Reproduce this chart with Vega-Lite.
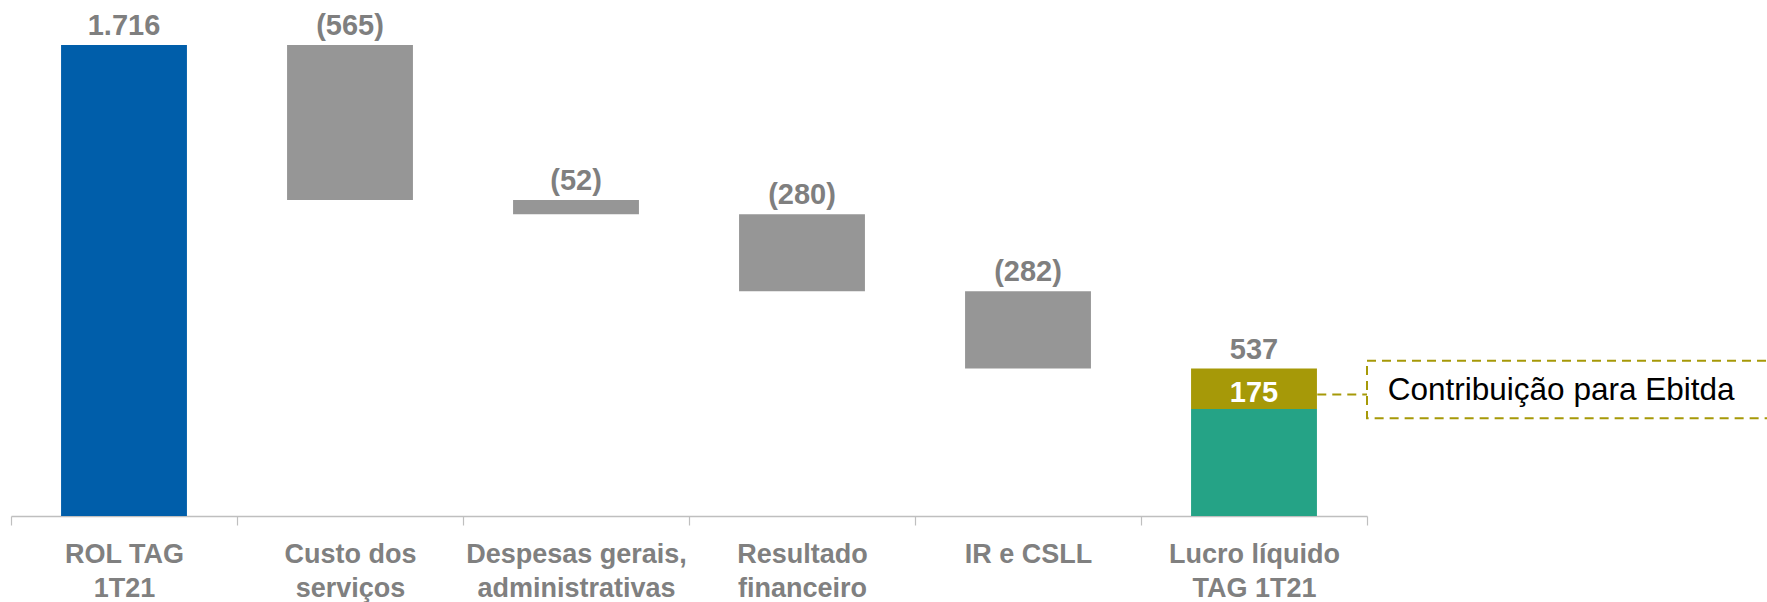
{
  "$schema": "https://vega.github.io/schema/vega-lite/v6.json",
  "width": 1356,
  "height": 471,
  "autosize": "none",
  "padding": {"left": 11, "top": 45, "right": 400, "bottom": 86},
  "background": "white",
  "config": {"view": {"stroke": null}, "font": "Liberation Sans"},
  "datasets": {
    "bars": [
      {"cat": "ROL TAG|1T21", "lo": 0, "hi": 1716, "kind": "total"},
      {"cat": "Custo dos|serviços", "lo": 1151, "hi": 1716, "kind": "neg"},
      {"cat": "Despesas gerais,|administrativas", "lo": 1099, "hi": 1151, "kind": "neg"},
      {"cat": "Resultado|financeiro", "lo": 819, "hi": 1099, "kind": "neg"},
      {"cat": "IR e CSLL", "lo": 537, "hi": 819, "kind": "neg"},
      {"cat": "Lucro líquido|TAG 1T21", "lo": 0, "hi": 390, "kind": "lucro"},
      {"cat": "Lucro líquido|TAG 1T21", "lo": 390, "hi": 537, "kind": "ebitda"}
    ],
    "toplabels": [
      {"cat": "ROL TAG|1T21", "top": 1716, "label": "1.716"},
      {"cat": "Custo dos|serviços", "top": 1716, "label": "(565)"},
      {"cat": "Despesas gerais,|administrativas", "top": 1151, "label": "(52)"},
      {"cat": "Resultado|financeiro", "top": 1099, "label": "(280)"},
      {"cat": "IR e CSLL", "top": 819, "label": "(282)"},
      {"cat": "Lucro líquido|TAG 1T21", "top": 537, "label": "537"}
    ],
    "inner": [
      {"cat": "Lucro líquido|TAG 1T21", "mid": 449.5, "label": "175"}
    ],
    "note": [
      {"bx": 5.78, "x0": 6, "x1": 8, "tx": 6.092, "lo": 356, "hi": 566, "ly": 443, "ty": 455, "text": "Contribuição para Ebitda"}
    ]
  },
  "layer": [
    {
      "encoding": {
        "x": {
          "field": "cat",
          "type": "nominal",
          "sort": null,
          "scale": {
            "domain": ["ROL TAG|1T21", "Custo dos|serviços", "Despesas gerais,|administrativas", "Resultado|financeiro", "IR e CSLL", "Lucro líquido|TAG 1T21"],
            "paddingInner": 0,
            "paddingOuter": 0
          },
          "axis": {
            "title": null,
            "labelAngle": 0,
            "labelExpr": "split(datum.label, '|')",
            "labelFont": "Liberation Sans",
            "labelFontWeight": "bold",
            "labelFontSize": 27,
            "labelColor": "#808080",
            "labelLineHeight": 34,
            "labelPadding": 16,
            "labelBaseline": "top",
            "labelOverlap": false,
            "labelLimit": 0,
            "labelFlush": false,
            "domainColor": "#bfbfbf",
            "domainWidth": 1.5,
            "tickColor": "#bfbfbf",
            "tickWidth": 1.2,
            "tickSize": 9,
            "tickBand": "extent",
            "grid": false
          }
        }
      },
      "layer": [
        {
          "data": {"name": "bars"},
          "mark": {"type": "bar", "width": {"band": 0.557}},
          "encoding": {
            "y": {"field": "lo", "type": "quantitative", "scale": {"domain": [0, 1716], "nice": false}, "axis": null},
            "y2": {"field": "hi"},
            "color": {
              "field": "kind",
              "type": "nominal",
              "scale": {"domain": ["total", "neg", "lucro", "ebitda"], "range": ["#005EAA", "#969696", "#25A386", "#A69908"]},
              "legend": null
            }
          }
        },
        {
          "data": {"name": "toplabels"},
          "mark": {"type": "text", "font": "Liberation Sans", "fontWeight": "bold", "fontSize": 29, "color": "#7f7f7f", "baseline": "alphabetic", "dy": -10},
          "encoding": {
            "y": {"field": "top", "type": "quantitative", "scale": {"domain": [0, 1716], "nice": false}, "axis": null},
            "text": {"field": "label"}
          }
        },
        {
          "data": {"name": "inner"},
          "mark": {"type": "text", "font": "Liberation Sans", "fontWeight": "bold", "fontSize": 29, "color": "#ffffff", "baseline": "middle"},
          "encoding": {
            "y": {"field": "mid", "type": "quantitative", "scale": {"domain": [0, 1716], "nice": false}, "axis": null},
            "text": {"field": "label"}
          }
        }
      ]
    },
    {
      "data": {"name": "note"},
      "layer": [
        {
          "mark": {"type": "rect", "fill": null, "fillOpacity": 0, "stroke": "#A69908", "strokeWidth": 2, "strokeDash": [9, 6]},
          "encoding": {
            "x": {"field": "x0", "type": "quantitative", "scale": {"domain": [0, 6], "nice": false, "zero": false}, "axis": null},
            "x2": {"field": "x1"},
            "y": {"field": "lo", "type": "quantitative", "scale": {"domain": [0, 1716], "nice": false}, "axis": null},
            "y2": {"field": "hi"}
          }
        },
        {
          "mark": {"type": "rule", "stroke": "#A69908", "strokeWidth": 2, "strokeDash": [9, 6]},
          "encoding": {
            "x": {"field": "bx", "type": "quantitative", "scale": {"domain": [0, 6], "nice": false, "zero": false}, "axis": null},
            "x2": {"field": "x0"},
            "y": {"field": "ly", "type": "quantitative", "scale": {"domain": [0, 1716], "nice": false}, "axis": null}
          }
        },
        {
          "mark": {"type": "text", "font": "Liberation Sans", "fontSize": 31.5, "color": "#000000", "align": "left", "baseline": "middle"},
          "encoding": {
            "x": {"field": "tx", "type": "quantitative", "scale": {"domain": [0, 6], "nice": false, "zero": false}, "axis": null},
            "y": {"field": "ty", "type": "quantitative", "scale": {"domain": [0, 1716], "nice": false}, "axis": null},
            "text": {"field": "text"}
          }
        }
      ]
    }
  ],
  "resolve": {"scale": {"x": "independent"}, "axis": {"x": "independent"}}
}
